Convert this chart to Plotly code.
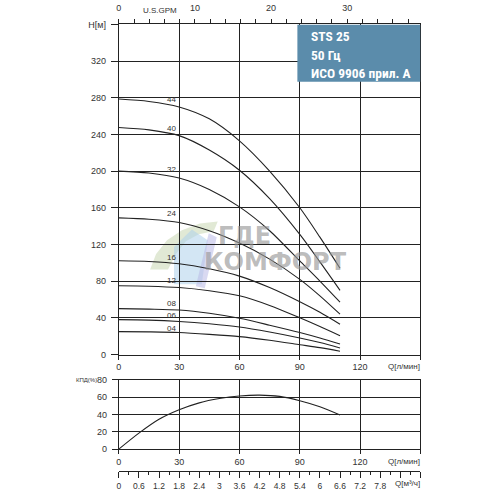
import plotly.graph_objects as go

# ---------------- data ----------------
q = [0, 15, 30, 45, 60, 75, 90, 100, 110]          # flow, l/min
curve_names = ["44", "40", "32", "24", "16", "12", "08", "06", "04"]
h44 = [278.6, 276, 270, 257, 233, 200, 160, 128, 94]
h40 = [247.6, 245, 238.7, 223, 201, 170, 131, 101, 70]
h32 = [200, 198, 192.5, 180, 161, 135, 102, 80, 57]
h24 = [149, 147.5, 144, 135, 121.5, 104, 82, 64, 44]
h16 = [102.3, 101.5, 99, 93.5, 85.5, 73, 57.5, 46, 33]
h12 = [75, 74.5, 73, 69.5, 64, 53.5, 40, 30.5, 20.5]
h08 = [50, 49.5, 48.5, 45, 39.5, 32, 24, 18, 11.5]
h06 = [38, 37.5, 36, 33.5, 30, 24.5, 18, 13, 7.2]
h04 = [25, 24.7, 24, 22, 19.5, 15.5, 10.7, 7.5, 3.6]
heads = [h44, h40, h32, h24, h16, h12, h08, h06, h04]

label_q = 26.3
label_h = [278.6, 246.9, 201.3, 153.9, 105.8, 80.9, 56.0, 42.1, 28.5]

q_eff = [0, 10, 20, 30, 40, 50, 60, 70, 80, 90, 100, 110]
eff = [0, 18.5, 34.5, 45.5, 53.5, 58.5, 61.5, 62.5, 61, 56, 49, 39.5]

h_ticks = [0, 40, 80, 120, 160, 200, 240, 280, 320, 360]
h_ticktext = ["0", "40", "80", "120", "160", "200", "240", "280", "320", "H[м]"]
q_ticks = [0, 30, 60, 90, 120, 150]
q_ticktext = ["0", "30", "60", "90", "120", ""]
gpm_ticks = list(range(0, 40, 2))
gpm_text = [str(v) if v % 10 == 0 else "" for v in gpm_ticks]
eff_ticks = [0, 20, 40, 60, 80]
m3_ticks = [round(i * 0.6, 1) for i in range(16)]
m3_text = [f"{v:g}" if v < 8 else "" for v in m3_ticks]

title_lines = ["STS 25", "50 Гц", "ИСО 9906 прил. А"]

# ---------------- layout helpers ----------------
W = H = 496
def px(x):
    return x / W
def py(y):
    return 1 - y / H

XDOM = [px(116.5), px(420)]
YTOP = [py(356.7), py(19.8)]
YBOT = [py(453.3), py(382.7)]

INK = "#222222"
TXT = "#333333"
FONT = "Liberation Sans, Arial, sans-serif"

fig = go.Figure()

for name, h in zip(curve_names, heads):
    fig.add_trace(go.Scatter(
        x=q, y=h, mode="lines", name=name,
        line=dict(color=INK, width=1.1, shape="spline", smoothing=0.8),
        xaxis="x", yaxis="y", hoverinfo="skip", showlegend=False))

fig.add_trace(go.Scatter(
    x=q_eff, y=eff, mode="lines",
    line=dict(color=INK, width=1.1, shape="spline", smoothing=0.8),
    xaxis="x3", yaxis="y3", hoverinfo="skip", showlegend=False))

# dummy traces to activate the secondary axes
fig.add_trace(go.Scatter(x=[0], y=[0], xaxis="x2", yaxis="y", mode="markers",
                         marker=dict(opacity=0), hoverinfo="skip", showlegend=False))
fig.add_trace(go.Scatter(x=[0], y=[0], xaxis="x4", yaxis="y3", mode="markers",
                         marker=dict(opacity=0), hoverinfo="skip", showlegend=False))

axis_common = dict(showline=True, linecolor=INK, linewidth=1, mirror=True,
                   gridcolor=INK, gridwidth=1, zeroline=False,
                   tickcolor=INK, ticks="outside",
                   tickfont=dict(family=FONT, size=9, color=TXT))

fig.update_layout(
    width=W, height=H, margin=dict(l=0, r=0, t=0, b=0),
    paper_bgcolor="white", plot_bgcolor="white", showlegend=False,
    xaxis=dict(domain=XDOM, range=[0, 150], anchor="y",
               tickmode="array", tickvals=q_ticks, ticktext=q_ticktext,
               ticklen=4, showgrid=True, **axis_common),
    yaxis=dict(domain=YTOP, range=[0, 360], anchor="x",
               tickmode="array", tickvals=h_ticks, ticktext=h_ticktext,
               ticklen=7, ticklabelstandoff=3, showgrid=True, **axis_common),
    xaxis2=dict(overlaying="x", side="top", anchor="y", range=[0, 150 / 3.78541],
                tickmode="array", tickvals=gpm_ticks, ticktext=gpm_text,
                ticks="outside", ticklen=4, tickcolor=INK, showgrid=False,
                showline=True, linecolor=INK, zeroline=False, ticklabelstandoff=5,
                tickfont=dict(family=FONT, size=9, color=TXT)),
    xaxis3=dict(domain=XDOM, range=[0, 150], anchor="y3",
                tickmode="array", tickvals=q_ticks, ticktext=q_ticktext,
                ticklen=4, showgrid=True, **axis_common),
    yaxis3=dict(domain=YBOT, range=[0, 80], anchor="x3",
                tickmode="array", tickvals=eff_ticks,
                ticklen=6, ticklabelstandoff=3, showgrid=True, **axis_common),
    xaxis4=dict(overlaying="x3", anchor="free", position=py(476), side="bottom",
                range=[0, 9], tickmode="array", tickvals=m3_ticks, ticktext=m3_text,
                ticks="outside", ticklen=6, tickcolor=INK, showgrid=False,
                minor=dict(ticks="outside", ticklen=3, tickcolor=INK,
                           tick0=0, dtick=0.3, showgrid=False),
                showline=True, linecolor=INK, zeroline=False,
                tickfont=dict(family=FONT, size=8.5, color=TXT)),
)

# curve labels
for name, hl in zip(curve_names, label_h):
    fig.add_annotation(x=label_q, y=hl, xref="x", yref="y", text=name,
                       showarrow=False, font=dict(family=FONT, size=8, color=TXT))

# axis captions
small = dict(family=FONT, size=8, color=TXT)
fig.add_annotation(x=px(158), y=py(6), xref="paper", yref="paper", text="U.S.GPM",
                   showarrow=False, font=small, xanchor="center", yanchor="middle")
fig.add_annotation(x=px(422), y=py(369.3), xref="paper", yref="paper", text="Q[л/мин]",
                   showarrow=False, font=small, xanchor="right", yanchor="middle")
fig.add_annotation(x=px(422), y=py(466), xref="paper", yref="paper", text="Q[л/мин]",
                   showarrow=False, font=small, xanchor="right", yanchor="middle")
fig.add_annotation(x=px(422), y=py(488.3), xref="paper", yref="paper", text="Q[м³/ч]",
                   showarrow=False, font=small, xanchor="right", yanchor="middle")
fig.add_annotation(x=px(97), y=py(382.7), xref="paper", yref="paper", text="КПД(%)",
                   showarrow=False, font=dict(family=FONT, size=6, color=TXT),
                   xanchor="right", yanchor="middle")

# title box
fig.add_shape(type="rect", xref="x", yref="y", x0=88.8, x1=150, y0=297.5, y1=360,
              fillcolor="#5b8cab", line=dict(width=0), layer="above")
for txt, yy in zip(title_lines, [347.3, 327.0, 307.4]):
    fig.add_annotation(x=94.4, y=yy, xref="x", yref="y", text="<b>" + txt + "</b>",
                       showarrow=False, xanchor="left", yanchor="middle",
                       font=dict(family="Liberation Sans Narrow, Roboto Condensed, Arial Narrow, sans-serif",
                                 size=13.5, color="white"))

# watermark (logo + text)
def path(points):
    s = "M " + " L ".join(f"{px(a):.4f},{py(b):.4f}" for a, b in points) + " Z"
    return s

fig.add_shape(type="path", xref="paper", yref="paper", layer="between",
              path=path([(148, 270), (154, 254), (165, 240), (180, 230), (198, 223), (216, 221),
                         (212, 231), (197, 234), (184, 241), (174, 254), (166, 270)]),
              fillcolor="rgba(205,218,185,0.6)", line=dict(width=0))
fig.add_shape(type="path", xref="paper", yref="paper", layer="between",
              path=path([(172, 285), (172, 247), (190, 229), (206, 240), (200, 285)]),
              fillcolor="rgba(175,210,235,0.55)", line=dict(width=0))
fig.add_shape(type="path", xref="paper", yref="paper", layer="between",
              path=path([(194, 287), (207, 233), (215, 237), (203, 289)]),
              fillcolor="rgba(185,185,230,0.55)", line=dict(width=0))

wm = dict(family="DejaVu Sans, sans-serif", size=24, color="rgba(150,150,150,0.65)")
fig.add_annotation(x=px(214), y=py(236), xref="paper", yref="paper", text="<b>ГДЕ</b>",
                   showarrow=False, xanchor="left", yanchor="middle", font=wm)
fig.add_annotation(x=px(200), y=py(262.5), xref="paper", yref="paper", text="<b>КОМФОРТ</b>",
                   showarrow=False, xanchor="left", yanchor="middle", font=wm)

fig.write_html("out.html",
               config={"displayModeBar": False},
               post_script="document.body.style.margin='0';document.body.style.padding='0';"
                           "document.documentElement.style.overflow='hidden';")
